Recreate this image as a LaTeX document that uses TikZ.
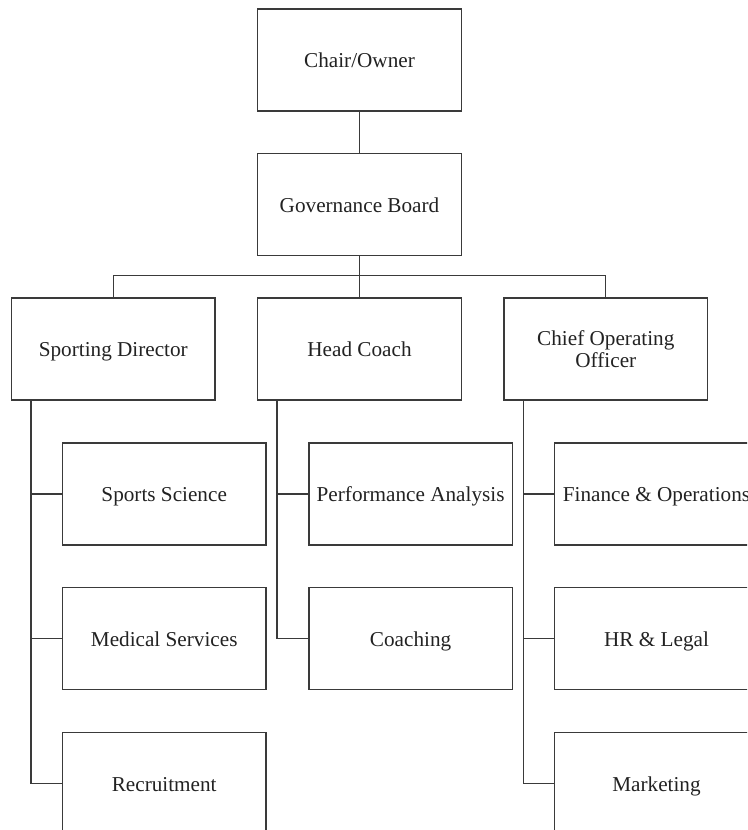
\documentclass[tikz,border=0pt]{standalone}
\usepackage{fontspec}
\setmainfont{Liberation Serif}
\definecolor{linec}{HTML}{3A3A3A}
\definecolor{textc}{HTML}{222222}
\begin{document}
\begin{tikzpicture}[x=0.75pt,y=-0.75pt,
  box/.style={draw=linec,line width=1pt,minimum width=152.6pt,minimum height=76.5pt,inner sep=0pt,
    text=textc,font=\fontsize{15.9}{16.4}\selectfont,align=center},
  onebox/.style={box,text height=12pt,text depth=0.4pt},
  conn/.style={draw=linec,line width=1pt}]
\useasboundingbox (0,0) rectangle (747,830);
\clip (0,0) rectangle (747,830);
\node[onebox] (chair) at (359.5,60) {Chair/Owner};
\node[onebox] (gov) at (359.5,204.5) {Governance Board};
\node[onebox] (sd) at (113.3,349) {Sporting Director};
\node[onebox] (hc) at (359.5,349) {Head Coach};
\node[box] (coo) at (605.8,349) {Chief Operating\\Officer};
\node[onebox] (ss) at (164.2,494) {Sports Science};
\node[onebox] (ms) at (164.2,638.7) {Medical Services};
\node[onebox] (rec) at (164.2,783.3) {Recruitment};
\node[onebox] (pa) at (410.6,494) {Performance Analysis};
\node[onebox] (co) at (410.6,638.7) {Coaching};
\node[onebox] (fo) at (656.5,494) {Finance \& Operations};
\node[onebox] (hr) at (656.5,638.7) {HR \& Legal};
\node[onebox] (mk) at (656.5,783.3) {Marketing};
\draw[conn] (chair.south) -- (gov.north);
\draw[conn] (gov.south) -- (hc.north);
\draw[conn] (sd.north) -- ++(0,-21.6) -| (coo.north);
\foreach \p/\c in {sd/ss,sd/ms,sd/rec,hc/pa,hc/co,coo/fo,coo/hr,coo/mk}{
  \draw[conn] ([xshift=15pt]\p.south west) |- (\c.west);
}
\end{tikzpicture}
\end{document}
